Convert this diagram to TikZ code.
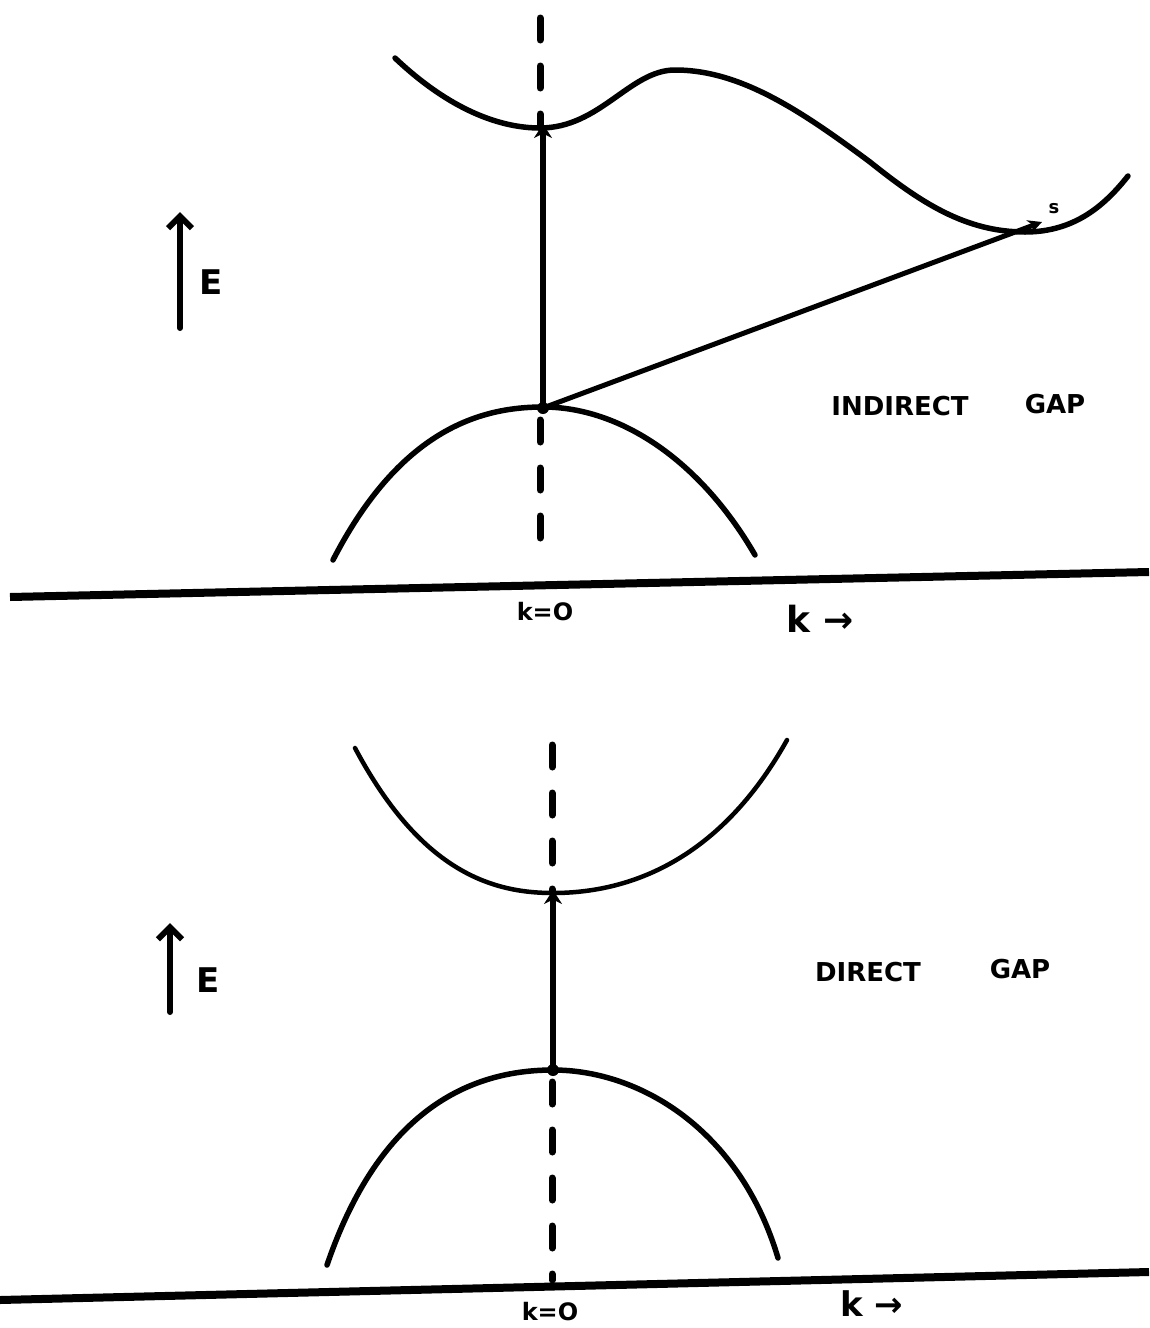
\documentclass[tikz,border=0pt]{standalone}
\usepackage{fontspec}
\setmainfont{DejaVu Sans}
\usetikzlibrary{arrows.meta}
\begin{document}
\begin{tikzpicture}[x=1pt,y=-1pt,
  band/.style={line width=5.5pt,line cap=round},
  axisline/.style={line width=8pt},
  kzero/.style={line width=7pt, line cap=round, dash pattern=on 22pt off 26pt},
  trans/.style={line width=6pt,-{Stealth[length=14pt,width=18pt]}},
  lbl/.style={font=\fontsize{26}{30}\selectfont\bfseries, inner sep=0pt},
  small/.style={font=\fontsize{24}{26}\selectfont\bfseries, inner sep=0pt, anchor=base},
  big/.style={font=\fontsize{36}{40}\selectfont\bfseries, inner sep=0pt, anchor=base}]
\useasboundingbox (0,0) rectangle (1149,1328);
\fill[white] (0,0) rectangle (1149,1328);

% ---------- top: indirect gap ----------
\coordinate (t1) at (540,18);
\coordinate (t1b) at (540,128);
\coordinate (t2a) at (540,420);
\coordinate (t2) at (540,560);
\draw[kzero] (t1) -- (t1b);
\draw[kzero] (t2a) -- (t2);
\draw[band] (395,58) .. controls (450,110) and (500,128) .. (540,128)
  .. controls (600,128) and (630,70) .. (675,70)
  .. controls (740,70) and (800,110) .. (870,162)
  .. controls (920,202) and (965,232) .. (1025,232)
  .. controls (1075,232) and (1105,205) .. (1128,176);
\draw[band] (333,560) .. controls (400,430) and (480,407) .. (543,407)
  .. controls (620,407) and (700,460) .. (755,555);
\coordinate (vtopA) at (543,408);
\coordinate (cminA) at (543,124);
\coordinate (cminB) at (1042,222);
\draw[trans] (vtopA) -- (cminA);
\draw[line width=5pt,-{Stealth[length=14pt,width=14pt]}] (vtopA) -- (cminB);
\node[font=\fontsize{18}{18}\selectfont\bfseries,inner sep=0pt] (s) at (1054,209) {s};
\fill (vtopA) circle (6pt);
\coordinate (a1) at (10,597);
\coordinate (a2) at (1149,572);
\draw[axisline] (a1) -- (a2);
\node[small] (k0a) at (545,620) {k=O};
\node[big] (ka) at (820,632) {k →};
\coordinate (e1) at (180,328);
\coordinate (e2) at (180,212);
\draw[line width=6pt,line cap=round,-{Straight Barb[length=12pt,width=24pt]}] (e1) -- (e2);
\node[lbl,font=\fontsize{34}{36}\selectfont\bfseries] (Ea) at (211,282) {E};
\node[lbl] (ind) at (900,406) {INDIRECT};
\node[lbl] (gapa) at (1055,404) {GAP};

% ---------- bottom: direct gap ----------
\coordinate (b1) at (552,745);
\coordinate (b1b) at (552,893);
\coordinate (b2a) at (552,1082);
\coordinate (b2) at (552,1280);
\draw[kzero] (b1) -- (b1b);
\draw[kzero] (b2a) -- (b2);
\draw[band,line width=4.5pt] (355,748) .. controls (420,870) and (490,893) .. (553,893)
  .. controls (630,893) and (720,860) .. (787,740);
\draw[band] (327,1265) .. controls (380,1110) and (470,1070) .. (553,1070)
  .. controls (640,1070) and (740,1130) .. (778,1258);
\coordinate (vtopB) at (553,1070);
\coordinate (cminC) at (553,890);
\draw[trans] (vtopB) -- (cminC);
\fill (vtopB) circle (6pt);
\coordinate (a3) at (0,1300);
\coordinate (a4) at (1149,1272);
\draw[axisline] (a3) -- (a4);
\node[small] (k0b) at (550,1320) {k=O};
\node[big,font=\fontsize{34}{38}\selectfont\bfseries] (kb) at (872,1316) {k →};
\coordinate (e3) at (170,1012);
\coordinate (e4) at (170,923);
\draw[line width=6pt,line cap=round,-{Straight Barb[length=12pt,width=24pt]}] (e3) -- (e4);
\node[lbl,font=\fontsize{34}{36}\selectfont\bfseries] (Eb) at (208,980) {E};
\node[lbl] (dir) at (868,972) {DIRECT};
\node[lbl] (gapb) at (1020,969) {GAP};
\end{tikzpicture}
\end{document}
